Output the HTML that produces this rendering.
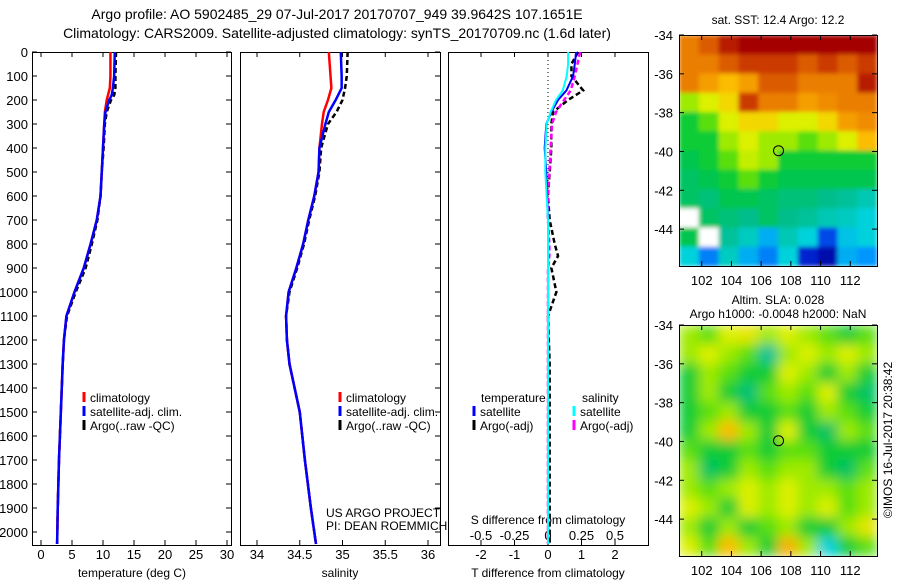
<!DOCTYPE html>
<html><head><meta charset="utf-8"><style>
body{margin:0;background:#fff;}
svg{display:block;font-family:"Liberation Sans",sans-serif;}
</style></head><body>
<svg id="s" width="900" height="580" xmlns="http://www.w3.org/2000/svg">
<defs>
<filter id="blurS" x="0" y="0" width="1" height="1"><feGaussianBlur stdDeviation="6" edgeMode="duplicate"/></filter>
<filter id="blurT" x="0" y="0" width="1" height="1"><feGaussianBlur stdDeviation="2" edgeMode="duplicate"/></filter>
<clipPath id="clipT"><rect x="679" y="35" width="198" height="231"/></clipPath>
<clipPath id="clipS"><rect x="679" y="325" width="198" height="231"/></clipPath>
</defs>
<g id="static" font-size="13" fill="#000">
<text x="337" y="19" text-anchor="middle" font-size="14">Argo profile: AO 5902485_29 07-Jul-2017 20170707_949 39.9642S 107.1651E</text>
<text x="337" y="38" text-anchor="middle" font-size="14">Climatology: CARS2009. Satellite-adjusted climatology: synTS_20170709.nc (1.6d later)</text>
<text x="132" y="577" text-anchor="middle" font-size="12">temperature (deg C)</text>
<text x="340" y="577" text-anchor="middle" font-size="12">salinity</text>
<text x="548" y="577" text-anchor="middle" font-size="12">T difference from climatology</text>
<text x="548" y="524" text-anchor="middle" font-size="12">S difference from climatology</text>
<text x="326" y="517" font-size="12">US ARGO PROJECT</text>
<text x="326" y="530" font-size="12">PI: DEAN ROEMMICH</text>
<text x="778" y="24" text-anchor="middle" font-size="12">sat. SST: 12.4 Argo: 12.2</text>
<text x="778" y="304" text-anchor="middle" font-size="12">Altim. SLA: 0.028</text>
<text x="778" y="318" text-anchor="middle" font-size="12">Argo h1000: -0.0048 h2000: NaN</text>
<text transform="translate(892,440) rotate(-90)" text-anchor="middle" font-size="12">©IMOS 16-Jul-2017 20:38:42</text>
</g>
</svg>
<script>
const depthsT=[0,100,150,180,200,250,300,400,500,600,700,800,900,1000,1100,1200,1300,1500,1700,1900,2050];
const tempClim=[11.2,11.2,11.1,10.8,10.6,10.3,10.2,10.0,9.8,9.6,9.0,8.0,6.9,5.4,4.1,3.7,3.5,3.2,2.9,2.7,2.6];
const tempSat=[11.9,11.8,11.6,11.4,11.0,10.4,10.2,10.0,9.8,9.6,9.0,8.0,6.9,5.4,4.1,3.7,3.5,3.2,2.9,2.7,2.6];
const tempArgo=[12.1,12.0,12.0,11.8,11.3,10.6,10.3,10.1,9.8,9.6,9.1,8.2,7.2,5.6,4.2,3.7,3.5,3.2,2.9,2.7,2.6];
const depthsS=[0,100,150,200,250,300,400,500,600,700,800,900,1000,1100,1200,1300,1400,1500,1700,1900,2050];
const salClim=[34.84,34.86,34.87,34.83,34.78,34.76,34.73,34.72,34.67,34.60,34.54,34.46,34.37,34.34,34.35,34.38,34.44,34.50,34.56,34.63,34.69];
const salSat=[34.98,34.99,34.99,34.92,34.84,34.80,34.73,34.72,34.67,34.60,34.54,34.46,34.37,34.34,34.35,34.38,34.44,34.50,34.56,34.63,34.69];
const salArgo=[35.06,35.05,35.03,35.0,34.93,34.83,34.75,34.73,34.68,34.61,34.55,34.47,34.38,34.34,34.35,34.38,34.44,34.50,34.56,34.63,34.69];
const depthsD=[0,50,100,160,200,250,300,400,500,600,700,800,850,900,1000,1100,1300,1600,2050];
const dTSat=[0.84,0.8,0.75,0.55,0.3,0.1,-0.05,-0.1,-0.05,-0.03,0,0,0,0,0,0,0,0,0];
const dSSat=[0.15,0.15,0.14,0.11,0.06,0.02,-0.01,-0.02,-0.02,-0.01,0,0,0,0,0,0,0,0,0];
const dTArgo=[0.9,0.7,0.7,1.05,0.6,0.15,0.1,0.1,0.05,0,0.05,0.2,0.3,0.1,0.25,0,0.05,0.05,0.05];
const dSArgo=[0.24,0.22,0.2,0.17,0.12,0.06,0.03,0.02,0.01,0,0,0.01,0.01,0,0,0,0,0,0];
const depthTicks=[0,100,200,300,400,500,600,700,800,900,1000,1100,1200,1300,1400,1500,1600,1700,1800,1900,2000];
const tTicks=[0,5,10,15,20,25,30];
const sTicks=[34,34.5,35,35.5,36];
const sTickLabels=["34","34.5","35","35.5","36"];
const dTTicks=[-2,-1,0,1,2];
const dSTicks=[-0.5,-0.25,0,0.25,0.5];
const dSTickLabels=["-0.5","-0.25","0","0.25","0.5"];
const lonTicks=[102,104,106,108,110,112];
const latTicks=[-34,-36,-38,-40,-42,-44];
const sstGrid=[
[0.8,0.85,0.95,1,1,1,1,1,1,1],
[0.8,0.8,0.85,0.9,0.9,0.9,0.85,0.9,0.85,0.9],
[0.8,0.75,0.7,0.75,0.85,0.85,0.8,0.8,0.8,0.95],
[0.55,0.6,0.65,0.9,0.8,0.8,0.75,0.78,0.8,0.8],
[0.45,0.5,0.6,0.65,0.65,0.6,0.6,0.65,0.75,0.78],
[0.45,0.45,0.55,0.6,0.55,0.55,0.5,0.55,0.6,0.7],
[0.42,0.45,0.5,0.58,0.55,0.45,0.45,0.45,0.45,0.45],
[0.4,0.42,0.45,0.5,0.45,0.42,0.42,0.42,0.42,0.42],
[0.4,0.38,0.42,0.42,0.4,0.38,0.38,0.36,0.35,0.33],
[-1,0.4,0.38,0.36,0.4,0.36,0.35,0.33,0.32,0.3],
[0.42,-1,0.35,0.32,0.25,0.33,0.3,0.15,0.28,0.3],
[0.3,0.2,0.32,0.25,0.2,0.3,0.1,0.05,0.25,0.22]];
const slaGrid=[
[0.55,0.5,0.6,0.62,0.55,0.6,0.55,0.5,0.45,0.5],
[0.55,0.6,0.55,0.5,0.35,0.55,0.6,0.55,0.6,0.55],
[0.45,0.55,0.5,0.45,0.45,0.6,0.55,0.45,0.55,0.45],
[0.45,0.55,0.45,0.38,0.5,0.55,0.5,0.6,0.45,0.4],
[0.45,0.5,0.55,0.45,0.45,0.5,0.45,0.55,0.5,0.45],
[0.45,0.55,0.7,0.55,0.45,0.6,0.45,0.4,0.55,0.5],
[0.5,0.45,0.45,0.5,0.45,0.5,0.5,0.45,0.45,0.45],
[0.55,0.4,0.45,0.55,0.5,0.55,0.55,0.45,0.4,0.5],
[0.55,0.5,0.55,0.6,0.55,0.6,0.55,0.55,0.5,0.55],
[0.6,0.55,0.45,0.6,0.55,0.6,0.55,0.6,0.5,0.55],
[0.55,0.45,0.55,0.45,0.5,0.55,0.45,0.45,0.55,0.62],
[0.6,0.5,0.7,0.55,0.45,0.72,0.55,0.3,0.45,0.5]];
const argoLon=107.17, argoLat=-39.96;

const NS="http://www.w3.org/2000/svg", svg=document.getElementById('s');
function el(t,a,p){const e=document.createElementNS(NS,t);for(const k in a)e.setAttribute(k,a[k]);(p||svg).appendChild(e);return e;}
const yD=d=>52+0.24*d;
const xT=v=>41+6.2*v, xS=v=>257+85.5*(v-34), xDT=v=>548+33.5*v, xDS=v=>548+134*v;
const PT=52,PB=545;
function panel(x0,x1,name){
  const r=el('rect',{x:x0+.5,y:PT+.5,width:x1-x0,height:PB-PT,fill:'none',stroke:'#000'});
  
  
}
panel(32,231,'temperature-panel');panel(240,440,'salinity-panel');panel(448,648,'difference-panel');
depthTicks.forEach(d=>{
  const t=el('text',{x:28,y:yD(d)+5,'text-anchor':'end','font-size':13});t.textContent=d;
  
  
  el('line',{x1:32,x2:37,y1:yD(d),y2:yD(d),stroke:'#000'});
  el('line',{x1:226,x2:231,y1:yD(d),y2:yD(d),stroke:'#000'});
  el('line',{x1:435,x2:440,y1:yD(d),y2:yD(d),stroke:'#000'});
});
function xticks(arr,fx,labels,ly,top){
  arr.forEach((v,i)=>{const x=fx(v);
    if(top){el('line',{x1:x,x2:x,y1:PT,y2:PT+5,stroke:'#000'});el('line',{x1:x,x2:x,y1:PB,y2:PB-5,stroke:'#000'});}
    const t=el('text',{x:x,y:ly,'text-anchor':'middle','font-size':13});t.textContent=labels?labels[i]:v;
    
    });
}
xticks(tTicks,xT,null,559,true);
xticks(sTicks,xS,sTickLabels,559,true);
xticks(dTTicks,xDT,null,559,true);
xticks(dSTicks,xDS,dSTickLabels,540,false);
el('line',{x1:548,x2:548,y1:PT,y2:PB,stroke:'#000','stroke-dasharray':'1,3'});
function line(ds,vs,fx,col,dash,name,w){
  const p=el('polyline',{points:ds.map((d,i)=>fx(vs[i])+','+yD(d)).join(' '),fill:'none',stroke:col,'stroke-width':w||2});
  if(dash)p.setAttribute('stroke-dasharray','5,3');
  
  
}
line(depthsT,tempArgo,xT,'#000',true,'temp-argo-line',2.5);
line(depthsT,tempClim,xT,'#f00',false,'temp-clim-line',2.5);
line(depthsT,tempSat,xT,'#00f',false,'temp-sat-line',2.5);
line(depthsS,salArgo,xS,'#000',true,'sal-argo-line',2.5);
line(depthsS,salClim,xS,'#f00',false,'sal-clim-line',2.5);
line(depthsS,salSat,xS,'#00f',false,'sal-sat-line',2.5);
line(depthsD,dTArgo,xDT,'#000',true,'dt-argo-line',2.5);
line(depthsD,dSArgo,xDS,'#f0f',true,'ds-argo-line',2.5);
line(depthsD,dTSat,xDT,'#00f',false,'dt-sat-line',2);
line(depthsD,dSSat,xDS,'#0ff',false,'ds-sat-line',2);
function leg(x,y,col,txt,name){
  el('line',{x1:x,x2:x,y1:y-10,y2:y,stroke:col,'stroke-width':3});
  const t=el('text',{x:x+6,y:y,'font-size':12});t.textContent=txt;
  
  
}
leg(84,402,'#f00','climatology','legend-climatology');
leg(84,416,'#00f','satellite-adj. clim.','legend-satellite');
leg(84,430,'#000','Argo(..raw -QC)','legend-argo');
leg(340,402,'#f00','climatology','legend-climatology-s');
leg(340,416,'#00f','satellite-adj. clim.','legend-satellite-s');
leg(340,430,'#000','Argo(..raw -QC)','legend-argo-s');
{const t=el('text',{x:481,y:402,'font-size':12});t.textContent='temperature';


const u=el('text',{x:582,y:402,'font-size':12});u.textContent='salinity';

}
leg(474,416,'#00f','satellite','legend-dt-satellite');
leg(474,430,'#000','Argo(-adj)','legend-dt-argo');
leg(574,416,'#0ff','satellite','legend-ds-satellite');
leg(574,430,'#f0f','Argo(-adj)','legend-ds-argo');
const stops=[[0,[0,0,140]],[0.12,[0,40,220]],[0.22,[0,150,255]],[0.3,[0,210,220]],[0.36,[0,190,140]],[0.44,[0,200,60]],[0.52,[120,230,0]],[0.6,[220,240,0]],[0.68,[255,200,0]],[0.78,[240,140,0]],[0.88,[210,70,0]],[1,[165,0,0]]];
function cmap(v){for(let i=1;i<stops.length;i++){if(v<=stops[i][0]){const a=stops[i-1],b=stops[i],f=(v-a[0])/(b[0]-a[0]);return 'rgb('+a[1].map((c,k)=>Math.round(c+(b[1][k]-c)*f)).join(',')+')';}}return 'rgb(165,0,0)';}
const LON0=100.47,LON1=113.8,LAT0=-34,LAT1=-45.9;
function map(grid,top,name,filt,clip){
  const L=679,R=877,B=top+231;
  const xl=v=>L+(v-LON0)/(LON1-LON0)*(R-L), yl=v=>top+(v-LAT0)/(LAT1-LAT0)*(B-top);
  const outer=el('g',{'clip-path':'url(#'+clip+')'});
  const g=el('g',{filter:'url(#'+filt+')'},outer);
  
  
  const nr=grid.length,nc=grid[0].length;
  grid.forEach((row,i)=>row.forEach((v,j)=>{
    const lo=LON0+(LON1-LON0)*j/nc,la=LAT0+(LAT1-LAT0)*i/nr;
    const x=xl(lo),y=yl(la),w=(R-L)/nc,h=(B-top)/nr;
    const c=el('rect',{x:x,y:y,width:w+0.5,height:h+0.5,fill:v<0?'#fff':cmap(v)},g);
    
    
  }));
  el('rect',{x:L+.5,y:top+.5,width:R-L,height:B-top,fill:'none',stroke:'#000'});
  lonTicks.forEach(v=>{const x=xl(v);el('line',{x1:x,x2:x,y1:top,y2:top+5,stroke:'#000'});el('line',{x1:x,x2:x,y1:B,y2:B-5,stroke:'#000'});
    const t=el('text',{x:x,y:B+19,'text-anchor':'middle','font-size':13});t.textContent=v;
    
    });
  latTicks.forEach(v=>{const y=yl(v);el('line',{x1:L,x2:L+5,y1:y,y2:y,stroke:'#000'});el('line',{x1:R,x2:R-5,y1:y,y2:y,stroke:'#000'});
    const t=el('text',{x:L-6,y:y+5,'text-anchor':'end','font-size':13});t.textContent=v;
    
    });
  const m=el('circle',{cx:xl(argoLon),cy:yl(argoLat),r:5,fill:'none',stroke:'#000'});
  
  
}
map(sstGrid,35,'sst-map','blurT','clipT');
map(slaGrid,325,'sla-map','blurS','clipS');
</script>
</body></html>
